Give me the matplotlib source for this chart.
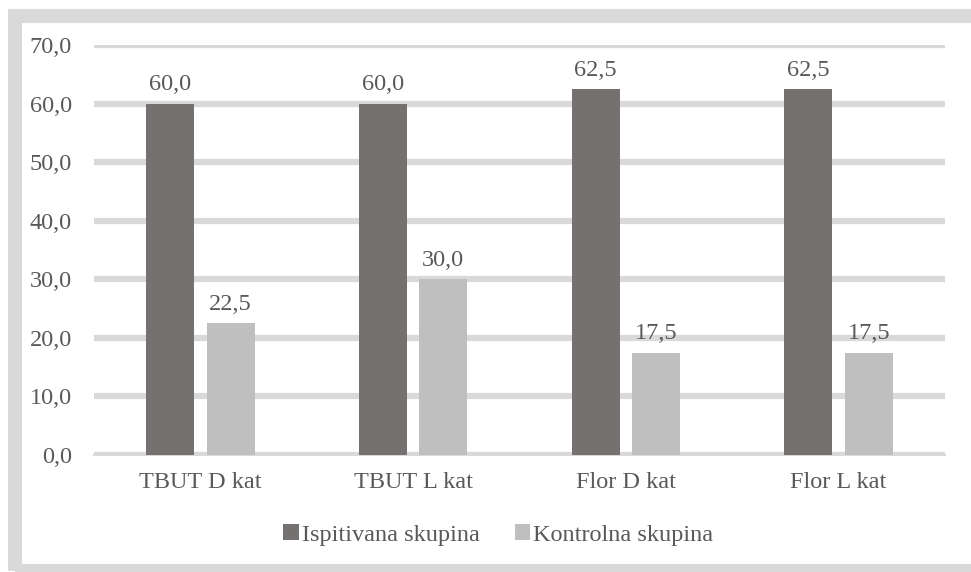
import numpy as np
import matplotlib.pyplot as plt
from matplotlib.patches import Rectangle

# Data
categories = ['TBUT D kat', 'TBUT L kat', 'Flor D kat', 'Flor L kat']
ispitivana = [60.0, 60.0, 62.5, 62.5]
kontrolna = [22.5, 30.0, 17.5, 17.5]
series_names = ['Ispitivana skupina', 'Kontrolna skupina']

dark = '#767171'
light = '#bfbfbf'
grid_col = '#d9d9d9'
text_col = '#595959'
fs = 17.5

plt.rcParams['font.family'] = 'serif'
plt.rcParams['font.serif'] = ['Liberation Serif']
plt.rcParams['font.size'] = fs

fig = plt.figure(figsize=(9.71, 5.72), dpi=100)
ax = fig.add_axes([94 / 971, 1 - 455 / 572, (945 - 94) / 971, (455 - 45) / 572])

x = np.arange(len(categories))
w = 0.225
off = 0.142
b1 = ax.bar(x - off, ispitivana, w, color=dark, label=series_names[0], zorder=3)
b2 = ax.bar(x + off, kontrolna, w, color=light, label=series_names[1], zorder=3)

for bars in (b1, b2):
    for r in bars:
        h = r.get_height()
        ax.annotate(f'{h:.1f}'.replace('.', ','), (r.get_x() + r.get_width() / 2, h),
                    xytext=(0, 6), textcoords='offset points', ha='center', va='bottom',
                    color=text_col, fontsize=fs)

ax.set_xlim(-0.5, len(categories) - 0.5)
ax.set_ylim(0, 70)
ax.set_yticks(np.arange(0, 71, 10))
ax.set_yticklabels([f'{v:.1f}'.replace('.', ',') for v in np.arange(0, 71, 10)])
ax.set_xticks(x)
ax.set_xticklabels(categories)
ax.tick_params(length=0, colors=text_col, labelsize=fs)
ax.tick_params(axis='x', pad=12)
ax.tick_params(axis='y', pad=16)
ax.yaxis.grid(True, color=grid_col, linewidth=4.5, zorder=0)
ax.set_axisbelow(True)
for s in ['top', 'right', 'left']:
    ax.spines[s].set_visible(False)
ax.spines['bottom'].set_color(grid_col)
ax.spines['bottom'].set_linewidth(1.5)

leg = fig.legend(loc='center', bbox_to_anchor=(0.513, 1 - 535 / 572), ncol=2, frameon=False,
                 handlelength=0.65, handleheight=0.65, handletextpad=0.1, columnspacing=1.45,
                 fontsize=fs)
for t in leg.get_texts():
    t.set_color(text_col)

# outer frame
fig.patches.append(Rectangle((15 / 971, 1 / 572), (973 - 15) / 971, (556.5 - 1) / 572,
                             transform=fig.transFigure, fill=False, edgecolor=grid_col,
                             linewidth=10.1, clip_on=False))

plt.savefig('out.png', dpi=100)
